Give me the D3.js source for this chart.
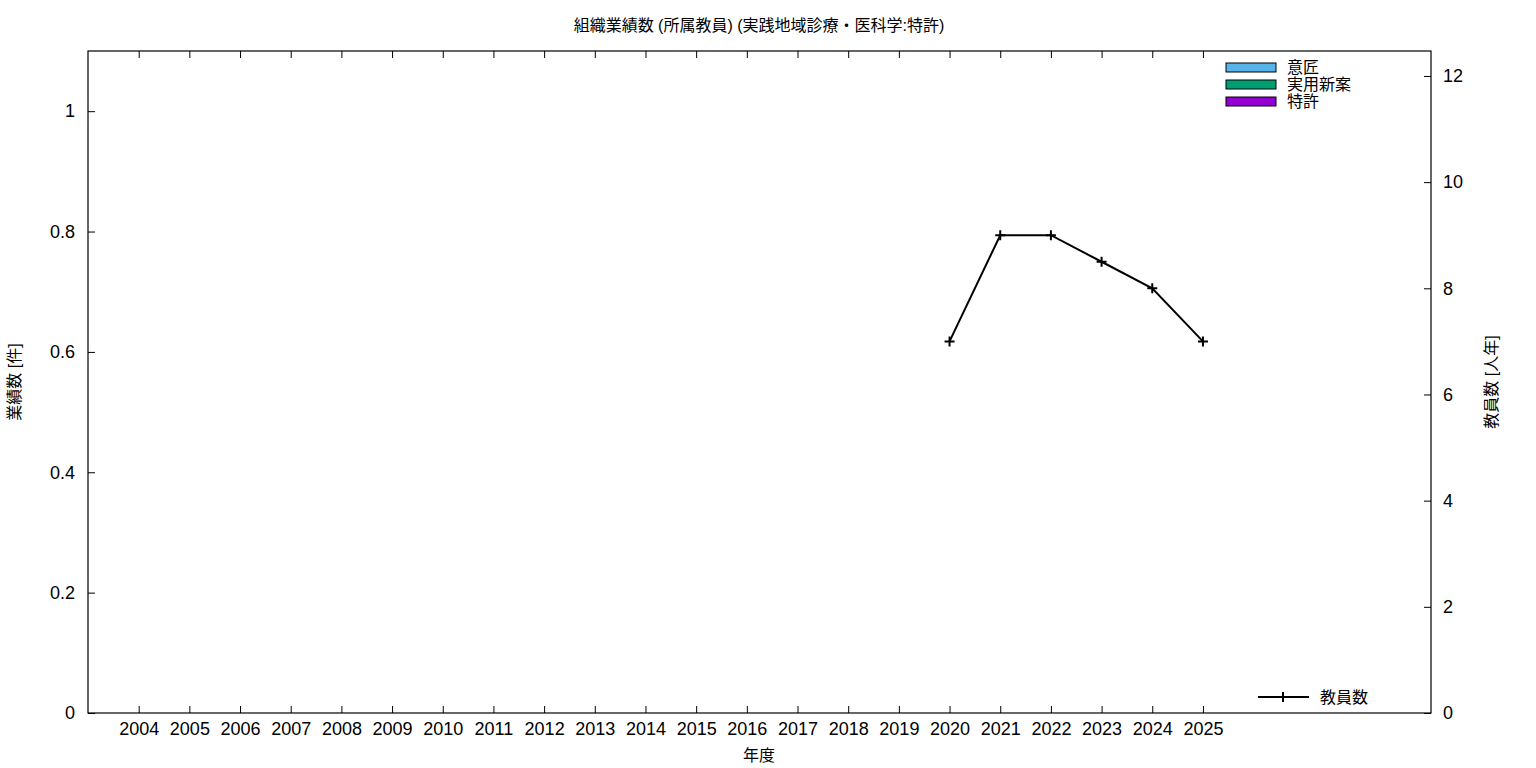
<!DOCTYPE html>
<html><head><meta charset="utf-8">
<script src="https://cdn.jsdelivr.net/npm/d3@7"></script>
<style>
body{margin:0;background:#fff;}
svg{display:block;font-family:"Liberation Sans","Noto Sans CJK JP",sans-serif;}
</style></head>
<body><svg id="c" width="1536" height="768"></svg>
<script>
const years = [2004,2005,2006,2007,2008,2009,2010,2011,2012,2013,2014,2015,2016,2017,2018,2019,2020,2021,2022,2023,2024,2025];
const design = years.map(()=>0);      // 意匠
const utility = years.map(()=>0);     // 実用新案
const patent = years.map(()=>0);      // 特許
const staffYears = [2020,2021,2022,2023,2024,2025];
const staff = [7,9,9,8.5,8,7];        // 教員数
const yTicks = [0,0.2,0.4,0.6,0.8,1];
const y2Ticks = [0,2,4,6,8,10,12];
const barSeries = [
  {name:"意匠", color:"#56b4e9", values:design},
  {name:"実用新案", color:"#009e73", values:utility},
  {name:"特許", color:"#9400d3", values:patent}
];

const svg = d3.select("#c");
const L=88, R=1431, T=51, B=713;
const x = d3.scaleLinear().domain([2003, 2029.5]).range([L,R]);
const y = d3.scaleLinear().domain([0,1.1]).range([B,T]);
const y2 = d3.scaleLinear().domain([0,12.47]).range([B,T]);

// bars (stacked, all zero)
const bw = 50.6*0.8/3;
barSeries.forEach((s,i)=>{
  svg.append("g").selectAll("rect").data(years.map((yr,j)=>({yr,v:s.values[j]})).filter(d=>d.v>0))
    .join("rect")
    .attr("x",d=>x(d.yr)-bw*1.5+i*bw).attr("width",bw)
    .attr("y",d=>y(d.v)).attr("height",d=>B-y(d.v))
    .attr("fill",s.color).attr("stroke","#000");
});

// frame
svg.append("rect").attr("x",L).attr("y",T).attr("width",R-L).attr("height",B-T)
  .attr("fill","none").attr("stroke","#000").attr("stroke-width",1.2);

const fs = 18;
// x axis
const gx = svg.append("g").attr("transform",`translate(0,${B})`)
  .call(d3.axisBottom(x).tickValues(years).tickFormat(d3.format("d")).tickSizeInner(-7).tickSizeOuter(0));
gx.select(".domain").remove();
gx.selectAll("text").attr("font-size",fs).attr("fill","#000").attr("dy","0.71em").attr("y",9).style("font-family","Liberation Sans");
gx.selectAll("line").attr("stroke","#000");
const gxt = svg.append("g").attr("transform",`translate(0,${T})`)
  .call(d3.axisTop(x).tickValues(years).tickFormat("").tickSizeInner(-7).tickSizeOuter(0));
gxt.select(".domain").remove();
gxt.selectAll("line").attr("stroke","#000");

// y axis
const gy = svg.append("g").attr("transform",`translate(${L},0)`)
  .call(d3.axisLeft(y).tickValues(yTicks).tickFormat(d=>d===0?"0":d3.format("")(d)).tickSizeInner(-7).tickSizeOuter(0));
gy.select(".domain").remove();
gy.selectAll("text").attr("font-size",fs).attr("fill","#000").attr("x",-13).style("font-family","Liberation Sans");
gy.selectAll("line").attr("stroke","#000");

// y2 axis
const gy2 = svg.append("g").attr("transform",`translate(${R},0)`)
  .call(d3.axisRight(y2).tickValues(y2Ticks).tickSizeInner(-7).tickSizeOuter(0));
gy2.select(".domain").remove();
gy2.selectAll("text").attr("font-size",fs).attr("fill","#000").attr("x",12).style("font-family","Liberation Sans");
gy2.selectAll("line").attr("stroke","#000");

// titles
svg.append("text").attr("x",759).attr("y",31).attr("text-anchor","middle").attr("font-size",16).text("組織業績数 (所属教員) (実践地域診療・医科学:特許)");
svg.append("text").attr("x",759).attr("y",761).attr("text-anchor","middle").attr("font-size",16).text("年度");
svg.append("text").attr("transform","translate(20,382) rotate(-90)").attr("text-anchor","middle").attr("font-size",16).text("業績数 [件]");
svg.append("text").attr("transform","translate(1497,382) rotate(-90)").attr("text-anchor","middle").attr("font-size",16).text("教員数 [人年]");

// staff line
const pts = staffYears.map((yr,i)=>[x(yr),y2(staff[i])]);
svg.append("path").attr("d",d3.line()(pts)).attr("fill","none").attr("stroke","#000").attr("stroke-width",2);
const plus = (g,cx,cy)=>g.append("path").attr("d",`M${cx-5},${cy}H${cx+5}M${cx},${cy-5}V${cy+5}`).attr("stroke","#000").attr("stroke-width",2);
pts.forEach(p=>plus(svg,p[0],p[1]));

// legend bars
barSeries.forEach((s,i)=>{
  const ly = 63 + i*17;
  svg.append("rect").attr("x",1226).attr("y",ly).attr("width",50).attr("height",9).attr("fill",s.color).attr("stroke","#000").attr("stroke-width",1);
  svg.append("text").attr("x",1287).attr("y",ly+10).attr("font-size",16).text(s.name);
});
// legend line
svg.append("line").attr("x1",1258).attr("x2",1309).attr("y1",697).attr("y2",697).attr("stroke","#000").attr("stroke-width",2);
plus(svg,1283,697);
svg.append("text").attr("x",1320).attr("y",703).attr("font-size",16).text("教員数");
</script></body></html>
